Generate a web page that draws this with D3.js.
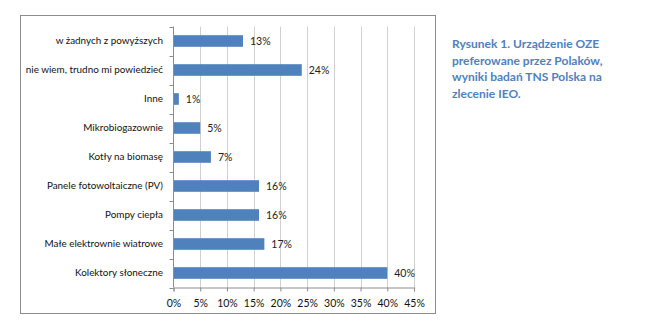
<!DOCTYPE html>
<html>
<head>
<meta charset="utf-8">
<script src="https://cdn.jsdelivr.net/npm/d3@7"></script>
<style>
  html, body { margin: 0; padding: 0; background: #fff; }
  svg { display: block; }
</style>
</head>
<body>
<svg id="chart" width="654" height="325"></svg>
<script>
// Category labels (top to bottom) and shares of respondents (%)
const categories = [
  "w żadnych z powyższych",
  "nie wiem, trudno mi powiedzieć",
  "Inne",
  "Mikrobiogazownie",
  "Kotły na biomasę",
  "Panele fotowoltaiczne (PV)",
  "Pompy ciepła",
  "Małe elektrownie wiatrowe",
  "Kolektory słoneczne"
];
const values = [13, 24, 1, 5, 7, 16, 16, 17, 40];
const xTicks = [0, 5, 10, 15, 20, 25, 30, 35, 40, 45];
const captionLines = [
  "Rysunek 1. Urządzenie OZE",
  "preferowane przez Polaków,",
  "wyniki badań TNS Polska na",
  "zlecenie IEO."
];

const svg = d3.select("#chart");
const font = "Lato, 'Open Sans', sans-serif";

// Chart frame
svg.append("rect")
  .attr("x", 20.5).attr("y", 15.5)
  .attr("width", 415).attr("height", 298)
  .attr("fill", "#fff")
  .attr("stroke", "#8c8c8c")
  .attr("stroke-width", 1);

const plot = { left: 173.5, right: 414, top: 26.5, bottom: 287.5 };

const x = d3.scaleLinear().domain([0, 45]).range([plot.left, plot.right]);
const y = d3.scaleBand().domain(categories).range([plot.top, plot.bottom])
  .paddingInner(0.6).paddingOuter(0.3);
const yEdges = d3.scaleBand().domain(categories).range([plot.top, plot.bottom]).padding(0);

// Vertical gridlines
svg.append("g")
  .selectAll("line")
  .data(xTicks.slice(1))
  .join("line")
  .attr("x1", d => Math.round(x(d)) + 0.5)
  .attr("x2", d => Math.round(x(d)) + 0.5)
  .attr("y1", plot.top)
  .attr("y2", plot.bottom)
  .attr("stroke", "#d0d0d0");

// Bars
svg.append("g")
  .selectAll("rect")
  .data(values)
  .join("rect")
  .attr("x", x(0))
  .attr("y", (d, i) => y(categories[i]))
  .attr("width", d => x(d) - x(0))
  .attr("height", y.bandwidth())
  .attr("fill", "#4f81bd");

// Value labels
svg.append("g")
  .selectAll("text")
  .data(values)
  .join("text")
  .attr("x", d => x(d) + 7)
  .attr("y", (d, i) => y(categories[i]) + y.bandwidth() / 2)
  .attr("dy", "0.35em")
  .attr("font-family", font)
  .attr("font-size", 10.5)
  .attr("fill", "#222")
  .text(d => d + "%");

// Y axis: line, ticks at category boundaries, labels
const yAxis = svg.append("g");
yAxis.append("line")
  .attr("x1", plot.left).attr("x2", plot.left)
  .attr("y1", plot.top).attr("y2", plot.bottom)
  .attr("stroke", "#8c8c8c");
const edges = categories.map(c => yEdges(c)).concat([plot.bottom]);
yAxis.selectAll("line.tick")
  .data(edges)
  .join("line")
  .attr("class", "tick")
  .attr("x1", plot.left - 4).attr("x2", plot.left)
  .attr("y1", d => Math.round(d) + 0.5).attr("y2", d => Math.round(d) + 0.5)
  .attr("stroke", "#8c8c8c");
yAxis.selectAll("text")
  .data(categories)
  .join("text")
  .attr("x", 163)
  .attr("y", d => yEdges(d) + yEdges.bandwidth() / 2)
  .attr("dy", "0.35em")
  .attr("text-anchor", "end")
  .attr("font-family", font)
  .attr("font-size", 9.9)
  .attr("fill", "#111")
  .text(d => d);

// X axis
const xAxis = svg.append("g").attr("transform", `translate(0,${plot.bottom})`)
  .call(d3.axisBottom(x).tickValues(xTicks).tickFormat(d => d + "%").tickSize(4).tickPadding(8));
xAxis.select(".domain").attr("stroke", "#8c8c8c");
xAxis.selectAll(".tick line").attr("stroke", "#8c8c8c");
xAxis.selectAll(".tick text")
  .attr("font-family", font)
  .attr("font-size", 10.5)
  .attr("fill", "#111");

// Caption
svg.append("g")
  .selectAll("text")
  .data(captionLines)
  .join("text")
  .attr("x", 452)
  .attr("y", (d, i) => 48 + i * 16.5)
  .attr("font-family", font)
  .attr("font-size", 12)
  .attr("font-weight", "bold")
  .attr("fill", "#4f81bd")
  .text(d => d);
</script>
</body>
</html>
